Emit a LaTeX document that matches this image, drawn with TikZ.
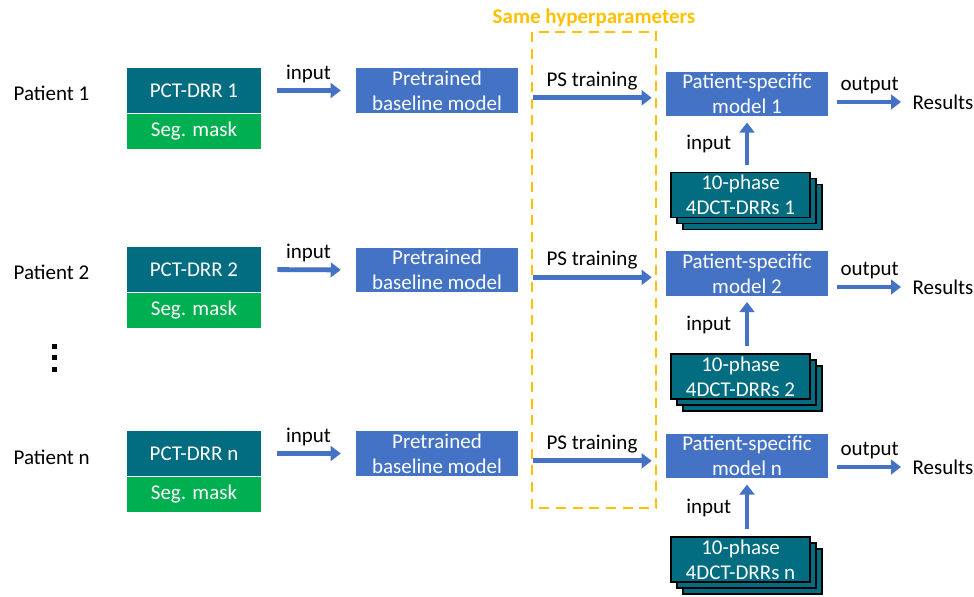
\documentclass[tikz,border=0pt]{standalone}
\usepackage{fontspec}
\setmainfont{Carlito}
\usetikzlibrary{arrows.meta,positioning,shadows}

\definecolor{drrteal}{RGB}{2,108,128}
\definecolor{maskgreen}{RGB}{0,176,80}
\definecolor{modelblue}{RGB}{68,114,196}
\definecolor{hypgold}{RGB}{255,192,0}

\tikzset{
	box/.style={minimum width=100.5pt, minimum height=33.75pt, inner sep=0pt, text=white, align=center, font=\fontsize{15.75}{19}\selectfont},
	drrbox/.style={box, fill=drrteal},
	maskbox/.style={box, fill=maskgreen, minimum height=26.25pt},
	modelbox/.style={box, fill=modelblue, minimum width=121.5pt, minimum height=33.4pt},
	stackbox/.style={box, fill=drrteal, draw=black, line width=0.8pt, minimum width=104.25pt,
		copy shadow={shadow xshift=9pt, shadow yshift=-9pt, fill=drrteal, draw=black, line width=0.8pt},
		copy shadow={shadow xshift=4.5pt, shadow yshift=-4.5pt, fill=drrteal, draw=black, line width=0.8pt}},
	lbl/.style={inner sep=1pt, text=black, font=\fontsize{15.75}{19}\selectfont},
	flow/.style={draw=modelblue, line width=3.6pt, -{Triangle[length=7.5pt,width=11pt]}},
	hypbox/.style={draw=hypgold, line width=2.2pt, dash pattern=on 7.5pt off 5pt}
}

\begin{document}
\begin{tikzpicture}[x=0.75pt, y=-0.75pt]
		%%%%% START %%%%%
		\useasboundingbox (0, 0) rectangle (974, 596);
		
		\draw[hypbox] (532, 32) rectangle (656, 508);
		\node[lbl, text=hypgold, font=\fontsize{15.75}{19}\selectfont\bfseries] (hyp) at (594, 18) {Same hyperparameters};
		
		% patient 1
		\node[lbl, anchor=west] (pat1) at (12, 93) {Patient 1};
		\node[drrbox] (drr1) at (194, 90.5) {PCT-DRR 1};
		\node[maskbox, below=0pt of drr1] (seg1) {Seg. mask};
		\node[modelbox] (pre1) at (437, 90.5) {Pretrained\\baseline model};
		\node[modelbox] (ps1) at (747, 94) {Patient-specific\\model 1};
		\node[stackbox] (st1) at (740.5, 195) {10-phase\\4DCT-DRRs 1};
		\node[lbl, anchor=west] (res1) at (911, 102) {Results};
		\coordinate (tr1) at ([yshift=-5.5pt]pre1.east);
		
		\draw[flow, shorten <=12pt, shorten >=11.25pt] (drr1.east) -- node[lbl, above=3pt] {input} (pre1.west);
		\draw[flow, shorten <=11.25pt, shorten >=10.5pt] (tr1) -- node[lbl, above=3pt] {PS training} (tr1 -| ps1.west);
		\draw[flow, shorten <=6.75pt, shorten >=7.5pt] (res1.west -| ps1.east) -- node[lbl, above=3pt] {output} (res1.west);
		\draw[flow, shorten <=5.25pt, shorten >=4.5pt] (ps1.south |- st1.north) -- node[lbl, left=9pt] {input} (ps1.south);
		
		% patient 2
		\node[lbl, anchor=west] (pat2) at (12, 272) {Patient 2};
		\node[drrbox] (drr2) at (194, 269.5) {PCT-DRR 2};
		\node[maskbox, below=0pt of drr2] (seg2) {Seg. mask};
		\node[modelbox] (pre2) at (437, 270) {Pretrained\\baseline model};
		\node[modelbox] (ps2) at (747, 273.5) {Patient-specific\\model 2};
		\node[stackbox] (st2) at (740.5, 376.5) {10-phase\\4DCT-DRRs 2};
		\node[lbl, anchor=west] (res2) at (911, 287) {Results};
		\coordinate (tr2) at ([yshift=-5.5pt]pre2.east);
		
		\draw[flow, shorten <=12pt, shorten >=11.25pt] (drr2.east) -- node[lbl, above=3pt] {input} (pre2.west);
		\draw[flow, shorten <=11.25pt, shorten >=10.5pt] (tr2) -- node[lbl, above=3pt] {PS training} (tr2 -| ps2.west);
		\draw[flow, shorten <=6.75pt, shorten >=7.5pt] (res2.west -| ps2.east) -- node[lbl, above=3pt] {output} (res2.west);
		\draw[flow, shorten <=5.25pt, shorten >=4.5pt] (ps2.south |- st2.north) -- node[lbl, left=9pt] {input} (ps2.south);
		
		% dots
		\fill (51.5, 343.5) rectangle +(5, 5);
		\fill (51.5, 355) rectangle +(5, 5);
		\fill (51.5, 366.5) rectangle +(5, 5);
		
		% patient n
		\node[lbl, anchor=west] (patn) at (12, 457) {Patient n};
		\node[drrbox] (drrn) at (194, 453.5) {PCT-DRR n};
		\node[maskbox, below=0pt of drrn] (segn) {Seg. mask};
		\node[modelbox] (pren) at (437, 453.5) {Pretrained\\baseline model};
		\node[modelbox] (psn) at (747, 456) {Patient-specific\\model n};
		\node[stackbox] (stn) at (740.5, 559.5) {10-phase\\4DCT-DRRs n};
		\node[lbl, anchor=west] (resn) at (911, 467) {Results};
		\coordinate (trn) at ([yshift=-5.5pt]pren.east);
		
		\draw[flow, shorten <=12pt, shorten >=11.25pt] (drrn.east) -- node[lbl, above=3pt] {input} (pren.west);
		\draw[flow, shorten <=11.25pt, shorten >=10.5pt] (trn) -- node[lbl, above=3pt] {PS training} (trn -| psn.west);
		\draw[flow, shorten <=6.75pt, shorten >=7.5pt] (resn.west -| psn.east) -- node[lbl, above=3pt] {output} (resn.west);
		\draw[flow, shorten <=5.25pt, shorten >=4.5pt] (psn.south |- stn.north) -- node[lbl, left=9pt] {input} (psn.south);
		
		%%%%% END %%%%%
	\end{tikzpicture}
\end{document}
